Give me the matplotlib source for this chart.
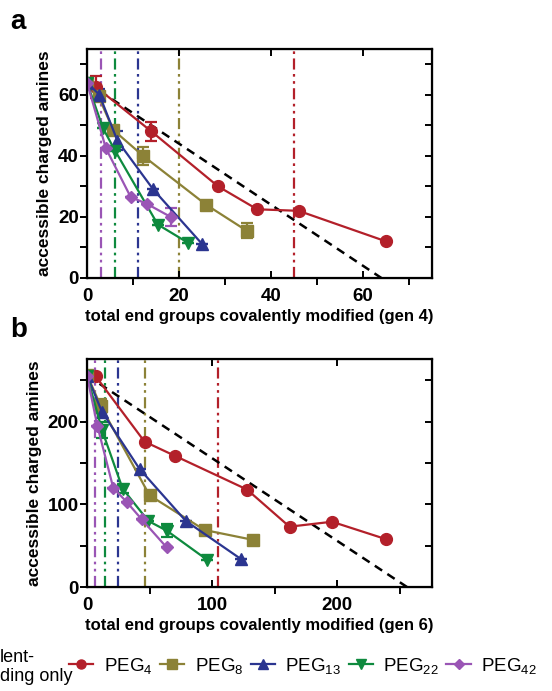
import matplotlib
matplotlib.use("Agg")
import matplotlib.pyplot as plt
from matplotlib.lines import Line2D
import numpy as np

plt.rcParams['font.family'] = ['Liberation Sans', 'DejaVu Sans']
plt.rcParams['mathtext.default'] = 'regular'

# colours for PEG4, PEG8, PEG13, PEG22, PEG42
colors = ['#b3202a', '#8c8237', '#2b3590', '#0e8a3e', '#9a55b5']
markers = ['o', 's', '^', 'v', 'D']
labels = ['PEG$_{4}$', 'PEG$_{8}$', 'PEG$_{13}$', 'PEG$_{22}$', 'PEG$_{42}$']

# ---------------- gen 4 data ----------------
gen4_total = 64
gen4_x = [
    [2, 14, 28.5, 37, 46, 65],
    [0, 2.5, 5.7, 12.2, 25.9, 34.7],
    [0, 2.7, 6.6, 14.4, 25.1],
    [0, 3.5, 6.1, 15.4, 22],
    [0, 4.1, 9.5, 13, 18.2],
]
gen4_y = [
    [62.5, 48, 30, 22.5, 22, 12],
    [64, 59.5, 48.5, 40, 24, 15.5],
    [64, 60, 45, 29, 11],
    [64, 49, 41.7, 17.5, 11.5],
    [64, 42.5, 26.5, 24.3, 20],
]
gen4_err = [
    [3.5, 3, 0, 0, 0, 0],
    [0, 1.5, 0, 3, 0, 2.5],
    [0, 2, 3, 0, 0],
    [0, 0, 0, 0, 0],
    [0, 0, 0, 0, 3],
]
gen4_vlines = [45, 20, 11, 6, 3]

# ---------------- gen 6 data ----------------
gen6_total = 256
gen6_x = [
    [7, 46, 70, 128, 162, 196, 239],
    [0, 11, 50, 94, 133],
    [0, 12, 42, 79, 123],
    [0, 12, 28.5, 49, 64, 96],
    [0, 8.3, 21, 31.7, 43.7, 63.7],
]
gen6_y = [
    [255, 176, 159, 118, 73, 79, 58],
    [257, 219, 111, 69, 57],
    [256, 212, 143, 80, 34],
    [256, 190, 119, 80, 68, 33],
    [256, 195, 120, 103, 82, 48],
]
gen6_err = [
    [0, 0, 0, 0, 0, 0, 0],
    [0, 8, 5, 3, 0],
    [0, 0, 0, 0, 0],
    [0, 10, 5, 0, 8, 0],
    [0, 0, 0, 0, 0, 0],
]
gen6_vlines = [105, 46, 25, 14, 6]


def draw_panel(ax, xs, ys, errs, vlines, total, xlim, ylim, xmaj, xmin, ymaj, ymin, xlabel):
    for v, c in zip(vlines, colors):
        ax.axvline(v, color=c, lw=1.6, dashes=(5, 2, 1.2, 2, 1.2, 2), zorder=1)
    ax.plot([0, total], [total, 0], color='black', lw=1.8, dashes=(3.5, 2.5), zorder=2)
    for x, y, e, c, m in zip(xs, ys, errs, colors, markers):
        ms = 6.5 if m == 'D' else 8.5
        ax.errorbar(x, y, yerr=e, color=c, marker=m, ms=ms, lw=1.6,
                    elinewidth=1.6, capsize=4, capthick=1.6, zorder=3)
    ax.set_xlim(*xlim)
    ax.set_ylim(*ylim)
    ax.set_xticks(np.arange(0, xlim[1], xmaj))
    ax.set_xticks(np.arange(0, xlim[1], xmin), minor=True)
    ax.set_yticks(np.arange(0, ylim[1], ymaj))
    ax.set_yticks(np.arange(0, ylim[1], ymin), minor=True)
    for s in ax.spines.values():
        s.set_linewidth(1.6)
    ax.tick_params(axis='both', which='both', width=1.4, length=5, labelsize=13.5)
    ax.tick_params(axis='y', direction='out', right=False, pad=1)
    ax.tick_params(axis='x', direction='in', top=True, pad=7)
    # mirrored inward ticks on the right
    ax2 = ax.twinx()
    ax2.set_ylim(*ylim)
    ax2.set_yticks(np.arange(0, ylim[1], ymin))
    ax2.tick_params(axis='y', direction='in', length=5, width=1.4, labelright=False)
    for lab in ax.get_xticklabels() + ax.get_yticklabels():
        lab.set_fontweight('bold')
    ax.set_xlabel(xlabel, fontsize=12, fontweight='bold', labelpad=3)
    ax.set_ylabel('accessible charged amines', fontsize=12.5, fontweight='bold', labelpad=4)


fig = plt.figure(figsize=(5.52, 6.91), dpi=100)
ax_a = fig.add_axes([87 / 552, 1 - 278 / 691, 345 / 552, 229 / 691])
ax_b = fig.add_axes([87 / 552, 1 - 587 / 691, 345 / 552, 228 / 691])

draw_panel(ax_a, gen4_x, gen4_y, gen4_err, gen4_vlines, gen4_total,
           (0, 75), (0, 75), 20, 10, 20, 10,
           'total end groups covalently modified (gen 4)')
draw_panel(ax_b, gen6_x, gen6_y, gen6_err, gen6_vlines, gen6_total,
           (0, 276), (0, 276), 100, 50, 100, 50,
           'total end groups covalently modified (gen 6)')

fig.text(10 / 552, 1 - 22 / 691, 'a', fontsize=20, fontweight='bold', va='center')
fig.text(10 / 552, 1 - 330 / 691, 'b', fontsize=20, fontweight='bold', va='center')

fig.text(0, 1 - 667 / 691, 'lent-\nding only', fontsize=13, va='center', ha='left',
         linespacing=1.15)

handles = [Line2D([], [], color=c, marker=m, ms=(5 if m == 'D' else 6.5), lw=1.6)
           for c, m in zip(colors, markers)]
fig.legend(handles=handles, labels=labels, loc='center left', ncol=5,
           bbox_to_anchor=(69 / 552, 1 - 666 / 691), frameon=False,
           fontsize=13.5, handlelength=1.3, handletextpad=0.55, columnspacing=0.4,
           borderpad=0, borderaxespad=0)

fig.savefig('out.png', dpi=100)
